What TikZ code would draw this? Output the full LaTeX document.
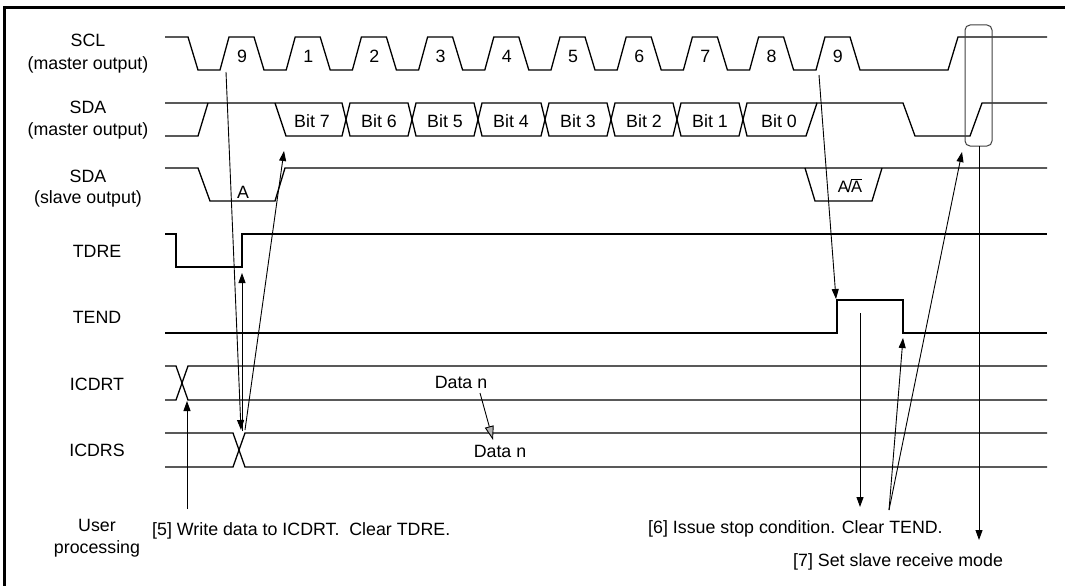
\documentclass[tikz,border=0pt]{standalone}
\usepackage{fontspec}
\setmainfont{Liberation Sans}
\usetikzlibrary{arrows.meta}
\begin{document}
\begin{tikzpicture}[x=1pt,y=-1pt,
  sig/.style={line width=1.3pt, line join=miter},
  conn/.style={line width=0.9pt, -{Triangle[length=10pt,width=7pt]}},
  grayarr/.style={line width=0.9pt, -{Triangle[length=14pt,width=9pt,fill=black!30]}},
  lbl/.style={inner sep=0pt, anchor=base, font=\fontsize{17.8}{20}\selectfont},
  txt/.style={inner sep=0pt, anchor=base west, font=\fontsize{17.8}{20}\selectfont}]
\useasboundingbox (0,0) rectangle (1065,586);
% frame
\draw[line width=2.6pt] (4.7,586) -- (4.7,7.8) -- (1065,7.8);

% left labels
\node[lbl] (lscl)  at (88,47)  {SCL};
\node[lbl] (lscl2) at (88,70)  {(master output)};
\node[lbl] (lsdm)  at (88,113) {SDA};
\node[lbl] (lsdm2) at (88,135) {(master output)};
\node[lbl] (lsds)  at (88,182) {SDA};
\node[lbl] (lsds2) at (88,203) {(slave output)};
\node[lbl] (ltdre) at (97,257) {TDRE};
\node[lbl] (ltend) at (97,323) {TEND};
\node[lbl] (lidt)  at (97,390) {ICDRT};
\node[lbl] (lids)  at (97,456) {ICDRS};
\node[lbl] (luser) at (97,531) {User};
\node[lbl] (luser2) at (97,553) {processing};

% SCL
\draw[sig] (165,37) -- (188,37) -- (198,70)
  foreach \k in {0,...,8} { -- ({220+66.2*\k},70) -- ({229+66.2*\k},37) -- ({254+66.2*\k},37) -- ({264+66.2*\k},70) }
  -- (816,70) -- (825,37) -- (850,37) -- (860,70) -- (948,70) -- (958,37) -- (1047,37);
\foreach \t [count=\k from 0] in {9,1,2,3,4,5,6,7,8,9}
  \node[lbl] (pulse\k) at ({242+66.2*\k},63) {\t};

% SDA master
\draw[sig] (165,136) -- (198,136) -- (208,103);
\draw[sig] (165,103) -- (342,103) -- (350,136) -- (408,136) -- (416,103) -- (474,103) -- (482,136)
  -- (541,136) -- (549,103) -- (607,103) -- (615,136) -- (673,136) -- (681,103) -- (739,103)
  -- (747,136) -- (806,136) -- (817,103) -- (903,103) -- (915,136) -- (970,136) -- (982,103) -- (1047,103);
\draw[sig] (275,103) -- (286,136) -- (342,136) -- (350,103) -- (408,103) -- (416,136) -- (474,136)
  -- (482,103) -- (541,103) -- (549,136) -- (607,136) -- (615,103) -- (673,103) -- (681,136)
  -- (739,136) -- (747,103) -- (817,103);
\foreach \b/\x in {7/312,6/379,5/445,4/511,3/578,2/644,1/710,0/779}
  \node[lbl] (bit\b) at (\x,127) {Bit \b};

% SDA slave
\draw[sig] (165,168) -- (198,168) -- (210,201) -- (275,201) -- (285,168) -- (1047,168);
\draw[sig] (805,168) -- (815,201) -- (872,201) -- (882,168);
\node[lbl] (ack) at (243,198) {A};
\node[lbl, font=\fontsize{16.5}{18}\selectfont] (nack) at (850,192) {A\kern-1.2pt/\kern-1.2pt$\overline{\hbox{A}}$};

% TDRE
\draw[sig] (165,234) -- (176,234) -- (176,267) -- (242,267) -- (242,234) -- (1047,234);
% TEND
\draw[sig] (165,333) -- (837,333) -- (837,300) -- (903,300) -- (903,333) -- (1047,333);
% ICDRT
\draw[sig] (165,366) -- (176,366) -- (188,400) -- (1047,400);
\draw[sig] (165,400) -- (176,400) -- (188,366) -- (1047,366);
\node[lbl] (dt) at (461,388) {Data n};
% ICDRS
\draw[sig] (165,433) -- (233,433) -- (245,467) -- (1047,467);
\draw[sig] (165,467) -- (233,467) -- (245,433) -- (1047,433);
\node[lbl] (ds) at (500,457) {Data n};

% highlight
\draw[line width=1pt, black!75, rounded corners=5pt] (965,25) rectangle (992,146);

% bottom texts
\node[txt] (t5) at (152,535) {[5] Write data to ICDRT.\ \ Clear TDRE.};
\node[txt] (t6) at (648,533) {[6] Issue stop condition. Clear TEND.};
\node[txt] (t7) at (793,566) {[7] Set slave receive mode};

% connector points
\coordinate (sclA) at (226,72);
\coordinate (xsA) at (241,430);
\coordinate (xsB) at (242,431);
\coordinate (xsC) at (245,430);
\coordinate (tdreT) at (242,273);
\coordinate (bit7T) at (284,151);
\coordinate (userS) at (187,509);
\coordinate (idtT) at (187,401);
\coordinate (sclB) at (819,75);
\coordinate (tendR) at (836,299);
\coordinate (stopS) at (860,313);
\coordinate (stopT) at (860,507);
\coordinate (p6) at (889,510);
\coordinate (tendF) at (903,338);
\coordinate (rectT) at (962,152);
\coordinate (rectB) at (979,146);
\coordinate (t7T) at (979,540);
\coordinate (dataS) at (480,393);
\coordinate (dataT) at (493,440);

% connectors
\draw[conn] (sclA) -- (xsA);
\draw[conn] (xsB) -- (tdreT);
\draw[conn] (xsC) -- (bit7T);
\draw[conn] (userS) -- (idtT);
\draw[conn] (sclB) -- (tendR);
\draw[conn] (stopS) -- (stopT);
\draw[conn] (p6) -- (tendF);
\draw[conn] (p6) -- (rectT);
\draw[conn] (rectB) -- (t7T);
\draw[grayarr] (dataS) -- (dataT);
\end{tikzpicture}
\end{document}
